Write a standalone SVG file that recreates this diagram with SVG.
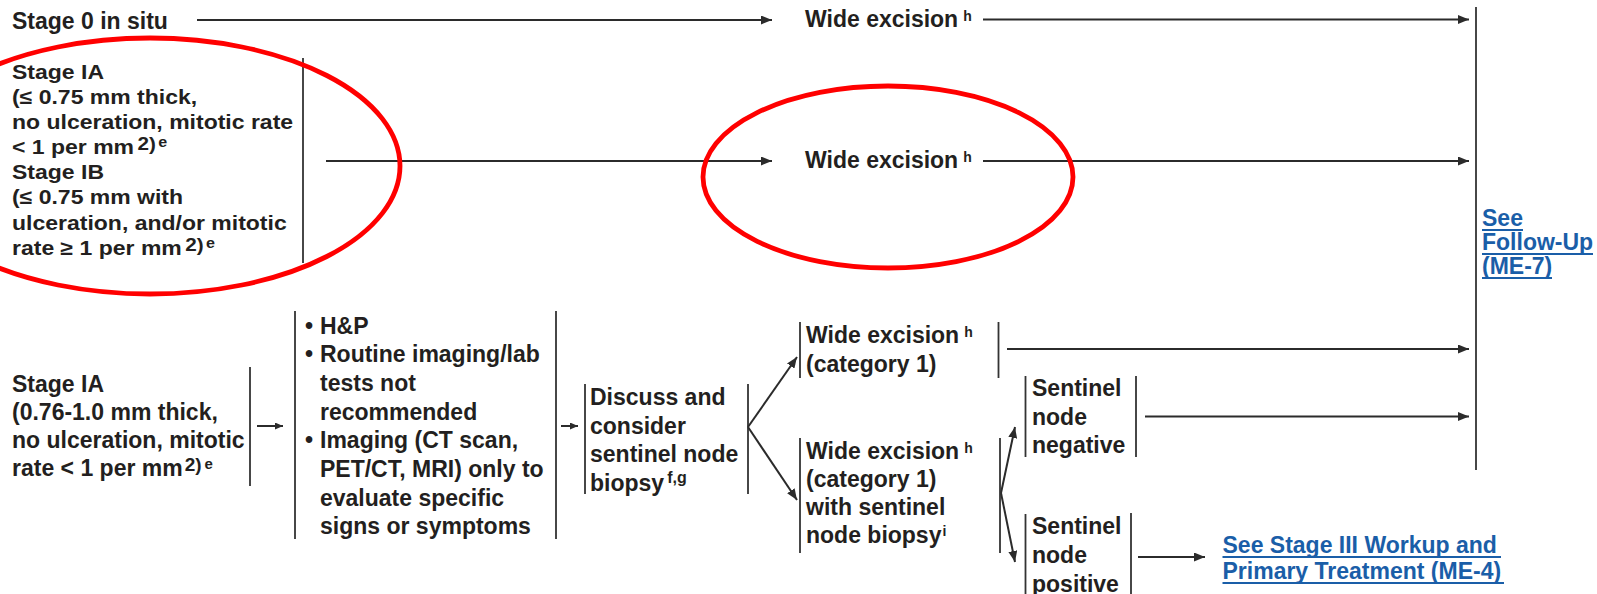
<svg xmlns="http://www.w3.org/2000/svg" width="1597" height="594" viewBox="0 0 1597 594">
<style>
text{font-family:"Liberation Sans",Arial,sans-serif;font-weight:bold;fill:#231f20;font-size:23px}
.r2 text{font-size:20px}
.sup{font-size:14px}
.link{fill:#1a5ea8}
.ul{stroke:#1a5ea8;stroke-width:2}
.bar{stroke:#333;stroke-width:1.8;fill:none}
.conn line{stroke:#2b2b2b;stroke-width:2}
.hl{fill:none;stroke:#f00;stroke-width:4.8}
</style>
<defs>
<marker id="ah" markerWidth="11" markerHeight="9" refX="11" refY="4.5" orient="auto" markerUnits="userSpaceOnUse"><path d="M0,0 L11,4.5 L0,9 Z" fill="#2b2b2b"/></marker>
<marker id="ahs" markerWidth="8" markerHeight="7" refX="8" refY="3.5" orient="auto" markerUnits="userSpaceOnUse"><path d="M0,0 L8,3.5 L0,7 Z" fill="#2b2b2b"/></marker>
</defs>
<rect width="1597" height="594" fill="#fff"/>

<g id="stage0">
<text x="12" y="29">Stage 0 in situ</text>
</g>

<g id="wide-excision-1">
<text x="805" y="27">Wide excision<tspan class="sup" dx="5" dy="-6">h</tspan></text>
</g>

<g id="stage-ia-ib">
<g class="r2" transform="translate(12 0) scale(1.15 1)">
<text x="0" y="79">Stage IA</text>
<text x="0" y="104.1">(≤ 0.75 mm thick,</text>
<text x="0" y="129.2">no ulceration, mitotic rate</text>
<text x="0" y="154.3">&lt; 1 per mm<tspan dx="3" dy="-4" style="font-size:18px">2)</tspan><tspan style="font-size:14px" dx="2" dy="-3">e</tspan></text>
<text x="0" y="179.4">Stage IB</text>
<text x="0" y="204.5">(≤ 0.75 mm with</text>
<text x="0" y="229.6">ulceration, and/or mitotic</text>
<text x="0" y="254.7">rate ≥ 1 per mm<tspan dx="3" dy="-4" style="font-size:18px">2)</tspan><tspan style="font-size:14px" dx="2" dy="-3">e</tspan></text>
</g>
<line class="bar" x1="303" y1="58" x2="303" y2="263"/>
</g>

<g id="wide-excision-2">
<text x="805" y="168">Wide excision<tspan class="sup" dx="5" dy="-6">h</tspan></text>
</g>

<g id="stage-ia-thick">
<text x="12" y="392">Stage IA</text>
<text x="12" y="420">(0.76-1.0 mm thick,</text>
<text x="12" y="448">no ulceration, mitotic</text>
<text x="12" y="476">rate &lt; 1 per mm<tspan dx="2" dy="-5" style="font-size:19px">2)</tspan><tspan style="font-size:15px" dx="3" dy="-2">e</tspan></text>
<line class="bar" x1="250" y1="367" x2="250" y2="486"/>
</g>

<g id="workup">
<line class="bar" x1="295" y1="311" x2="295" y2="539"/>
<text x="305" y="333.5">•</text><text x="320" y="333.5">H&amp;P</text>
<text x="305" y="362.2">•</text><text x="320" y="362.2">Routine imaging/lab</text>
<text x="320" y="390.9">tests not</text>
<text x="320" y="419.6">recommended</text>
<text x="305" y="448.3">•</text><text x="320" y="448.3">Imaging (CT scan,</text>
<text x="320" y="477">PET/CT, MRI) only to</text>
<text x="320" y="505.7">evaluate specific</text>
<text x="320" y="534.4">signs or symptoms</text>
<line class="bar" x1="556" y1="311" x2="556" y2="539"/>
</g>

<g id="discuss">
<line class="bar" x1="585" y1="384" x2="585" y2="494"/>
<text x="590" y="405">Discuss and</text>
<text x="590" y="433.5">consider</text>
<text x="590" y="462">sentinel node</text>
<text x="590" y="490.5">biopsy<tspan style="font-size:16px" dx="3" dy="-8">f,g</tspan></text>
<line class="bar" x1="748" y1="384" x2="748" y2="494"/>
</g>

<g id="wide-excision-cat1">
<line class="bar" x1="800" y1="322" x2="800" y2="378"/>
<text x="806" y="343">Wide excision<tspan class="sup" dx="5" dy="-6">h</tspan></text>
<text x="806" y="372">(category 1)</text>
<line class="bar" x1="998.5" y1="322" x2="998.5" y2="378"/>
</g>

<g id="wide-excision-slnb">
<line class="bar" x1="800" y1="438" x2="800" y2="553"/>
<text x="806" y="459">Wide excision<tspan class="sup" dx="5" dy="-6">h</tspan></text>
<text x="806" y="487">(category 1)</text>
<text x="806" y="515">with sentinel</text>
<text x="806" y="543">node biopsy<tspan class="sup" dx="1" dy="-7">i</tspan></text>
<line class="bar" x1="1000" y1="438" x2="1000" y2="553"/>
</g>

<g id="sentinel-negative">
<line class="bar" x1="1025.5" y1="376" x2="1025.5" y2="457"/>
<text x="1032" y="396">Sentinel</text>
<text x="1032" y="425">node</text>
<text x="1032" y="453">negative</text>
<line class="bar" x1="1136" y1="376" x2="1136" y2="457"/>
</g>

<g id="sentinel-positive">
<line class="bar" x1="1025.5" y1="514" x2="1025.5" y2="594"/>
<text x="1032" y="534">Sentinel</text>
<text x="1032" y="563">node</text>
<text x="1032" y="592">positive</text>
<line class="bar" x1="1131" y1="513" x2="1131" y2="594"/>
</g>

<g id="stage3-link">
<text class="link" x="1222.5" y="553">See Stage III Workup and</text>
<text class="link" x="1222.5" y="579">Primary Treatment (ME-4)</text>
<line class="ul" x1="1222.5" y1="557" x2="1501" y2="557"/>
<line class="ul" x1="1222.5" y1="583" x2="1504" y2="583"/>
</g>

<g id="followup-link">
<line class="bar" x1="1476" y1="7" x2="1476" y2="470"/>
<text class="link" x="1482" y="226">See</text>
<text class="link" x="1482" y="250">Follow-Up</text>
<text class="link" x="1482" y="274">(ME-7)</text>
<line class="ul" x1="1482" y1="230" x2="1523" y2="230"/>
<line class="ul" x1="1482" y1="254" x2="1593" y2="254"/>
<line class="ul" x1="1482" y1="278" x2="1552" y2="278"/>
</g>

<g id="connectors" class="conn">
<line x1="197" y1="20" x2="772" y2="20" marker-end="url(#ah)"/>
<line x1="983" y1="19.5" x2="1469" y2="19.5" marker-end="url(#ah)"/>
<line x1="326" y1="161" x2="772" y2="161" marker-end="url(#ah)"/>
<line x1="983" y1="161" x2="1469" y2="161" marker-end="url(#ah)"/>
<line x1="257" y1="426" x2="283" y2="426" marker-end="url(#ahs)"/>
<line x1="561" y1="426" x2="578" y2="426" marker-end="url(#ahs)"/>
<line x1="748" y1="427" x2="797" y2="357" marker-end="url(#ah)"/>
<line x1="748" y1="427" x2="797" y2="500" marker-end="url(#ah)"/>
<line x1="1007" y1="349" x2="1469" y2="349" marker-end="url(#ah)"/>
<line x1="1001" y1="493" x2="1015" y2="427" marker-end="url(#ah)"/>
<line x1="1001" y1="493" x2="1015" y2="562" marker-end="url(#ah)"/>
<line x1="1145" y1="416.5" x2="1469" y2="416.5" marker-end="url(#ah)"/>
<line x1="1138" y1="557" x2="1205" y2="557" marker-end="url(#ah)"/>
</g>

<g id="highlights">
<ellipse class="hl" cx="150" cy="166" rx="250" ry="128"/>
<ellipse class="hl" cx="888" cy="177" rx="185" ry="91"/>
</g>
</svg>
